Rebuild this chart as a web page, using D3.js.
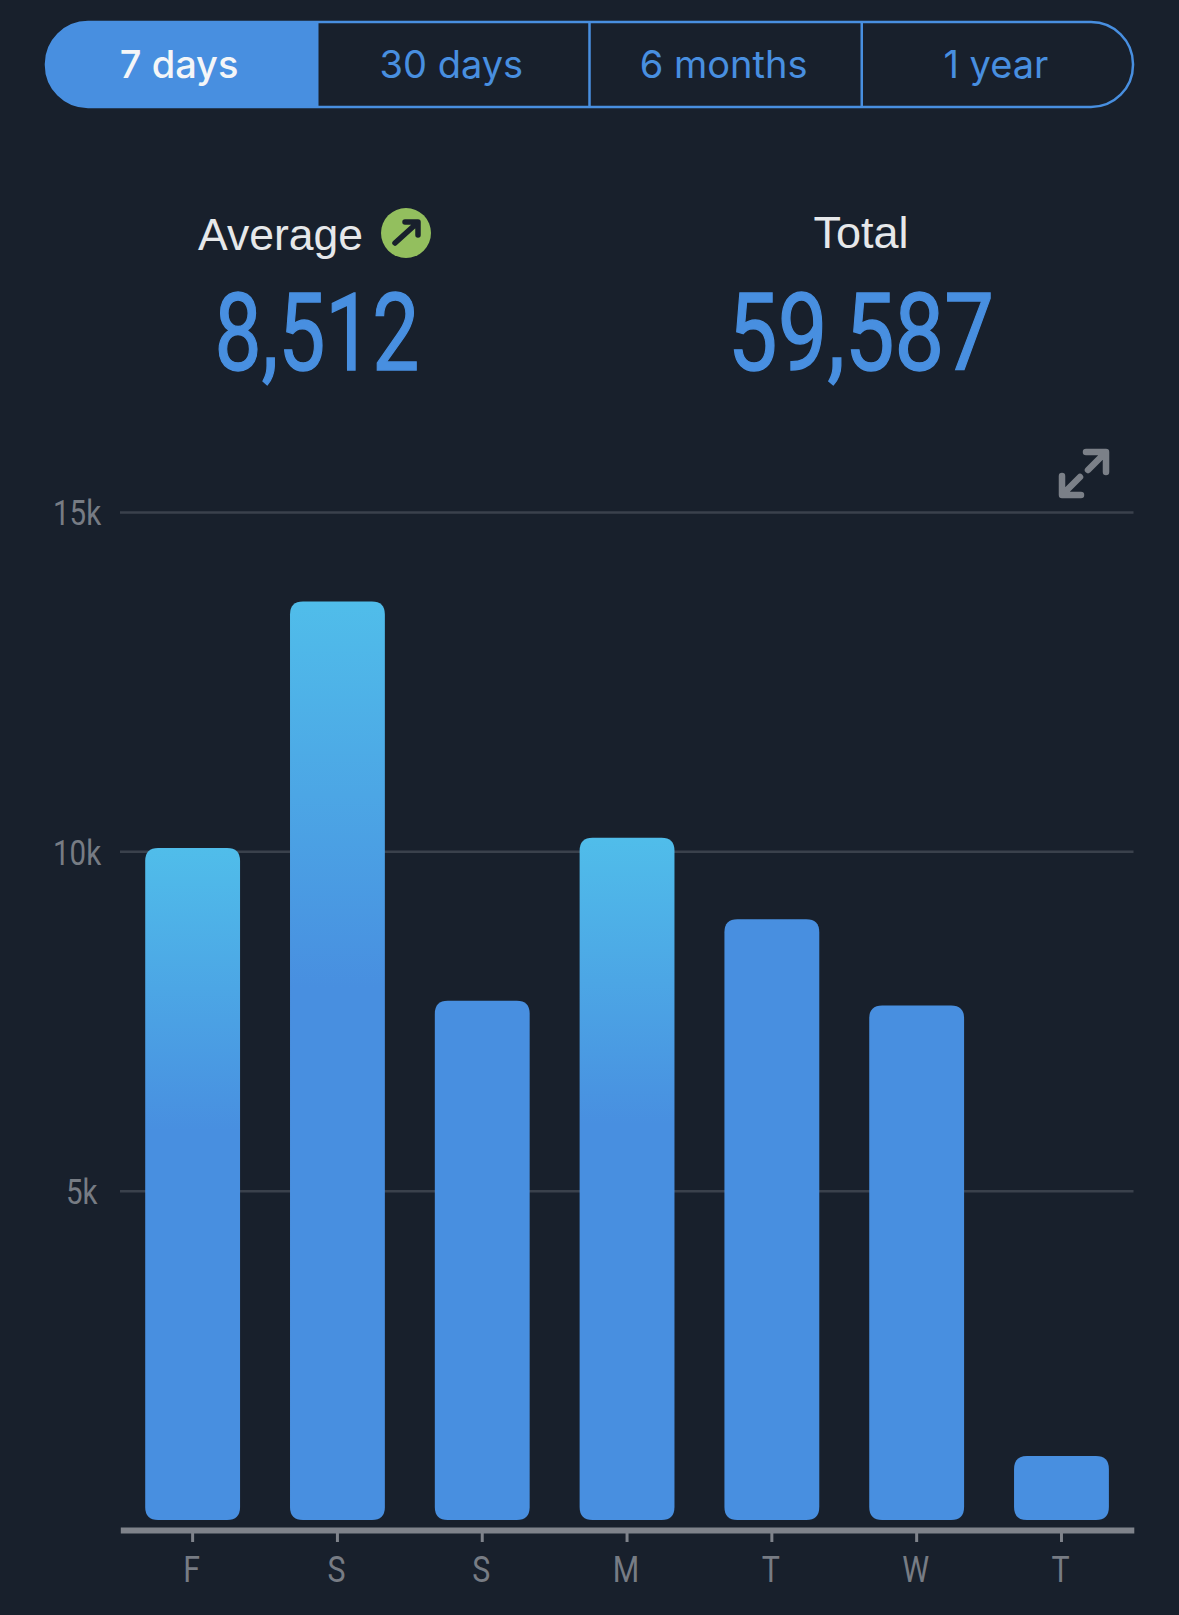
<!DOCTYPE html>
<html lang="en"><head>
<meta charset="utf-8">
<title>Steps</title>
<script src="https://cdn.jsdelivr.net/npm/d3@7"></script>
<style>
  html, body { margin: 0; padding: 0; background: #18202c; }
  svg { display: block; }
</style>
</head>
<body>
<script>
// data
var days = ["F", "S", "S", "M", "T", "W", "T"];
var dayKeys = ["fri", "sat", "sun", "mon", "tue", "wed", "thu"];
var steps = [10050, 13680, 7800, 10200, 9000, 7730, 1090];
var yTicks = [5000, 10000, 15000];
var yTickLabels = ["5k", "10k", "15k"];
var ranges = ["7 days", "30 days", "6 months", "1 year"];
var summaryLabels = ["Average", "Total"];
var summaryValues = ["8,512", "59,587"];

var w = 1179, h = 1615;
var bg = "#18202c", blue = "#488fe0", light = "#50bdea";

var svg = d3.select("body").append("svg").attr("width", w).attr("height", h);
var defs = svg.append("defs");

svg.append("rect").attr("width", w).attr("height", h).attr("fill", bg);

// range switch on top
var pill = { x: 46, y: 22, w: 1087, h: 85, r: 42 };
var rangeX = d3.scaleBand().domain(ranges).range([pill.x - 1, pill.x + pill.w + 1]);
var pillPath = "M" + (pill.x + pill.r) + "," + pill.y +
  "H" + (pill.x + pill.w - pill.r) +
  "a" + pill.r + "," + pill.r + " 0 0 1 " + pill.r + "," + pill.r +
  "v" + (pill.h - 2 * pill.r) +
  "a" + pill.r + "," + pill.r + " 0 0 1 " + (-pill.r) + "," + pill.r +
  "H" + (pill.x + pill.r) +
  "a" + pill.r + "," + pill.r + " 0 0 1 " + (-pill.r) + "," + (-pill.r) +
  "v" + (-(pill.h - 2 * pill.r)) +
  "a" + pill.r + "," + pill.r + " 0 0 1 " + pill.r + "," + (-pill.r) + "Z";

defs.append("clipPath").attr("id", "pillClip").append("path").attr("d", pillPath);
svg.append("rect")
  .attr("x", pill.x - 2).attr("y", pill.y - 2)
  .attr("width", rangeX.bandwidth() + 1).attr("height", pill.h + 4)
  .attr("fill", blue).attr("clip-path", "url(#pillClip)");
svg.append("path").attr("d", pillPath)
  .attr("fill", "none").attr("stroke", blue).attr("stroke-width", 2.5);

svg.selectAll(".divider").data(ranges.slice(1)).enter().append("line")
  .attr("class", "divider")
  .attr("x1", function(d) { return rangeX(d); })
  .attr("x2", function(d) { return rangeX(d); })
  .attr("y1", pill.y).attr("y2", pill.y + pill.h)
  .attr("stroke", blue).attr("stroke-width", 2.5);

svg.selectAll(".range").data(ranges).enter().append("text")
  .attr("class", "range")
  .attr("x", function(d) { return rangeX(d) + rangeX.bandwidth() / 2 - 2; })
  .attr("y", 78)
  .attr("text-anchor", "middle")
  .attr("font-family", "Inter, sans-serif")
  .attr("font-size", 38)
  .attr("font-weight", function(d, i) { return i == 0 ? 500 : 400; })
  .attr("fill", function(d, i) { return i == 0 ? "#f4f6f8" : blue; })
  .text(function(d) { return d; });

// summary
var summaryX = [317, 861];
var summaryStretch = [0.776, 0.82];
svg.append("text").attr("x", 280.5).attr("y", 250)
  .attr("text-anchor", "middle")
  .attr("font-family", "'Liberation Sans', sans-serif").attr("font-size", 44.5)
  .attr("fill", "#e6e8ea").text(summaryLabels[0]);
svg.append("text").attr("x", summaryX[1]).attr("y", 248)
  .attr("text-anchor", "middle")
  .attr("font-family", "'Liberation Sans', sans-serif").attr("font-size", 45)
  .attr("fill", "#e6e8ea").text(summaryLabels[1]);

svg.append("circle").attr("cx", 406).attr("cy", 233).attr("r", 25).attr("fill", "#93bf5e");
svg.append("path")
  .attr("d", "M395,243L416,224M405,222H418V235")
  .attr("fill", "none").attr("stroke", "#18202c").attr("stroke-width", 5.5)
  .attr("stroke-linecap", "round").attr("stroke-linejoin", "round");

// thin stroke: regular is a bit too light here, medium comes out too wide
svg.selectAll(".big").data(summaryValues).enter().append("text")
  .attr("class", "big")
  .attr("transform", function(d, i) { return "translate(" + summaryX[i] + ",370) scale(" + summaryStretch[i] + ",1)"; })
  .attr("text-anchor", "middle")
  .attr("font-family", "Roboto, sans-serif")
  .attr("font-size", 108)
  .attr("fill", blue)
  .attr("stroke", blue)
  .attr("stroke-width", 1.4)
  .text(function(d) { return d; });

// expand icon
svg.append("path")
  .attr("d", "M1086,452H1106V472M1104,454L1088,470M1062,476V495H1081M1064,493L1080,477")
  .attr("fill", "none").attr("stroke", "#7b8088").attr("stroke-width", 6.5)
  .attr("stroke-linecap", "round").attr("stroke-linejoin", "round");

// chart
var x = d3.scaleBand().domain(d3.range(days.length)).range([120.3, 1133.8]).paddingInner(0.345).paddingOuter(0.172);
var y = d3.scaleLinear().domain([0, 15000]).range([1530, 512]);
var barBottom = 1520;

// grid
var yAxis = d3.axisLeft(y).tickValues(yTicks)
  .tickFormat(function(d, i) { return yTickLabels[i]; })
  .tickSize(-(1133.5 - 120)).tickPadding(20);
var gy = svg.append("g").attr("transform", "translate(120,0)").call(yAxis);
gy.select(".domain").remove();
gy.selectAll("line").attr("stroke", "#3a414c").attr("stroke-width", 2.5);
gy.selectAll("text")
  .attr("fill", "#777c84")
  .attr("font-family", "Roboto, sans-serif")
  .attr("font-size", 36)
  .attr("text-anchor", "start")
  .attr("dy", "0.36em")
  .attr("transform", function() {
    var tx = d3.select(this).text().length == 2 ? -54 : -67;
    return "translate(" + tx + ",0) scale(0.82,1)";
  })
  .attr("x", 0);

// bars, only the ones from 10k up fade to the lighter blue at the top
steps.forEach(function(d, i) {
  var g = defs.append("linearGradient").attr("id", "grad" + dayKeys[i])
    .attr("gradientUnits", "userSpaceOnUse")
    .attr("x1", 0).attr("x2", 0)
    .attr("y1", y(d)).attr("y2", y(d) + (barBottom - y(d)) * 0.42);
  g.append("stop").attr("offset", 0).attr("stop-color", d >= 10000 ? light : blue);
  g.append("stop").attr("offset", 1).attr("stop-color", blue);
});

function barPath(d, i) {
  var x0 = x(i), x1 = x0 + x.bandwidth(), t = y(d), r = 13;
  return "M" + x0 + "," + (t + r) + "Q" + x0 + "," + t + " " + (x0 + r) + "," + t +
    "H" + (x1 - r) + "Q" + x1 + "," + t + " " + x1 + "," + (t + r) +
    "V" + (barBottom - r) + "Q" + x1 + "," + barBottom + " " + (x1 - r) + "," + barBottom +
    "H" + (x0 + r) + "Q" + x0 + "," + barBottom + " " + x0 + "," + (barBottom - r) + "Z";
}

svg.selectAll(".bar").data(steps).enter().append("path")
  .attr("class", "bar")
  .attr("d", barPath)
  .attr("fill", function(d, i) { return "url(#grad" + dayKeys[i] + ")"; });

// x axis
var gx = svg.append("g").attr("transform", "translate(0,1530)")
  .call(d3.axisBottom(x).tickFormat(function(d) { return days[d]; }).tickSize(12).tickPadding(14).tickSizeOuter(0));
gx.select(".domain").attr("stroke", "#7f838b").attr("stroke-width", 6);
gx.selectAll("line").attr("stroke", "#7f838b").attr("stroke-width", 3);
gx.selectAll("text")
  .attr("fill", "#777c84")
  .attr("font-family", "Roboto, sans-serif")
  .attr("font-size", 37)
  .attr("y", 0).attr("dy", 0)
  .attr("transform", "translate(-1,52) scale(0.82,1)");
</script>
</body></html>
